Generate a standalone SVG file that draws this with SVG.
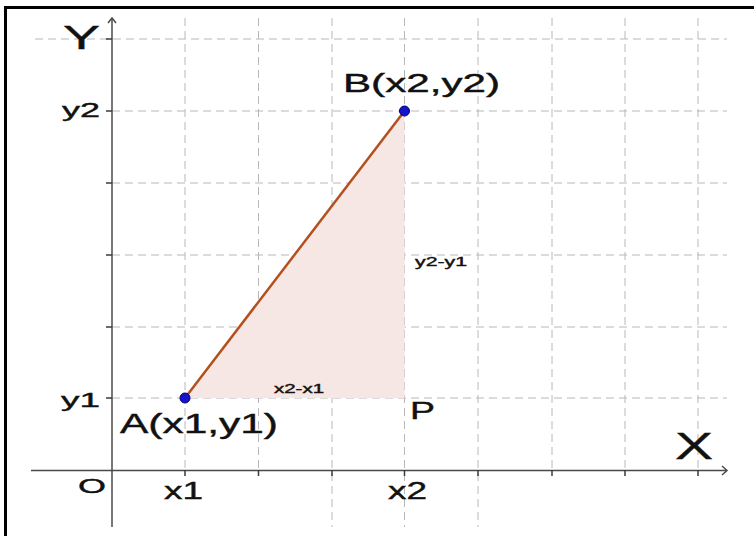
<svg xmlns="http://www.w3.org/2000/svg" width="754" height="536" viewBox="0 0 754 536">
<defs>
<style>
.grid{stroke:#b8b8b8;stroke-width:1;stroke-dasharray:8 5;fill:none}
.axis{stroke:#4a4a4a;stroke-width:1.5;fill:none}
.tick{stroke:#3a3a3a;stroke-width:1.5}
.lbl{font-family:"Liberation Sans",Arial,sans-serif;fill:#111;stroke:#111;stroke-width:0.4}
.pt{fill:#1414c8;stroke:#00007a;stroke-width:1}
</style>
</defs>
<rect width="754" height="536" fill="#fff"/>
<g id="frame" stroke="#000" stroke-width="3" fill="none">
<line x1="5" y1="7.5" x2="754" y2="7.5"/>
<line x1="5.5" y1="6" x2="5.5" y2="536"/>
</g>
<g id="grid" class="grid">
<line x1="35" y1="39" x2="727" y2="39"/>
<line x1="112" y1="111" x2="727" y2="111"/>
<line x1="112" y1="183" x2="727" y2="183"/>
<line x1="112" y1="255" x2="727" y2="255"/>
<line x1="112" y1="327" x2="727" y2="327"/>
<line x1="112" y1="398" x2="727" y2="398"/>
<line x1="185" y1="18" x2="185" y2="470"/>
<line x1="258.5" y1="18" x2="258.5" y2="470"/>
<line x1="332" y1="18" x2="332" y2="527"/>
<line x1="404.5" y1="18" x2="404.5" y2="527"/>
<line x1="478" y1="18" x2="478" y2="527"/>
<line x1="552" y1="18" x2="552" y2="470"/>
<line x1="625" y1="18" x2="625" y2="470"/>
<line x1="698" y1="18" x2="698" y2="470"/>
</g>
<g id="triangle">
<polygon points="185,398 404.5,111 404.5,398" fill="#f6e7e4"/>
</g>
<g id="axes">
<line class="axis" x1="31" y1="470.5" x2="727" y2="470.5"/>
<polyline class="axis" points="722,466 727,470.5 722,475"/>
<line class="axis" x1="112" y1="527" x2="112" y2="18"/>
<polyline class="axis" points="108,23 112,18 116,23"/>
<g class="tick">
<line x1="185" y1="470" x2="185" y2="476"/>
<line x1="258.5" y1="470" x2="258.5" y2="476"/>
<line x1="332" y1="470" x2="332" y2="476"/>
<line x1="404.5" y1="470" x2="404.5" y2="476"/>
<line x1="478" y1="470" x2="478" y2="476"/>
<line x1="552" y1="470" x2="552" y2="476"/>
<line x1="625" y1="470" x2="625" y2="476"/>
<line x1="698" y1="470" x2="698" y2="476"/>
<line x1="106" y1="39" x2="112" y2="39"/>
<line x1="106" y1="111" x2="112" y2="111"/>
<line x1="106" y1="183" x2="112" y2="183"/>
<line x1="106" y1="255" x2="112" y2="255"/>
<line x1="106" y1="327" x2="112" y2="327"/>
<line x1="106" y1="398" x2="112" y2="398"/>
</g>
<text class="lbl" x="63" y="49" font-size="34" textLength="37" lengthAdjust="spacingAndGlyphs">Y</text>
<text class="lbl" x="675" y="459" font-size="36" textLength="38" lengthAdjust="spacingAndGlyphs">X</text>
<text class="lbl" x="62" y="117" font-size="20" textLength="38" lengthAdjust="spacingAndGlyphs">y2</text>
<text class="lbl" x="61" y="407" font-size="20" textLength="39" lengthAdjust="spacingAndGlyphs">y1</text>
<text class="lbl" x="78" y="493" font-size="20" textLength="28" lengthAdjust="spacingAndGlyphs">O</text>
<text class="lbl" x="164" y="499" font-size="23" textLength="39" lengthAdjust="spacingAndGlyphs">x1</text>
<text class="lbl" x="388" y="499" font-size="23" textLength="39" lengthAdjust="spacingAndGlyphs">x2</text>
</g>
<g id="connectors">
<line id="segAB" x1="185" y1="398" x2="404.5" y2="111" stroke="#b4501e" stroke-width="2.5"/>
</g>
<g id="label-dx">
<text class="lbl" x="274" y="393" font-size="12" textLength="50" lengthAdjust="spacingAndGlyphs" stroke-width="0.2">x2-x1</text>
</g>
<g id="label-dy">
<text class="lbl" x="415" y="266" font-size="13" textLength="52" lengthAdjust="spacingAndGlyphs" stroke-width="0.2">y2-y1</text>
</g>
<g id="pointA">
<circle class="pt" cx="185" cy="398" r="5"/>
<text class="lbl" x="120" y="433" font-size="27" textLength="158" lengthAdjust="spacingAndGlyphs">A(x1,y1)</text>
</g>
<g id="pointB">
<circle class="pt" cx="404.5" cy="111" r="5"/>
<text class="lbl" x="343" y="92" font-size="25" textLength="157" lengthAdjust="spacingAndGlyphs">B(x2,y2)</text>
</g>
<g id="pointP">
<text class="lbl" x="410" y="419" font-size="24" textLength="25" lengthAdjust="spacingAndGlyphs">P</text>
</g>
</svg>
